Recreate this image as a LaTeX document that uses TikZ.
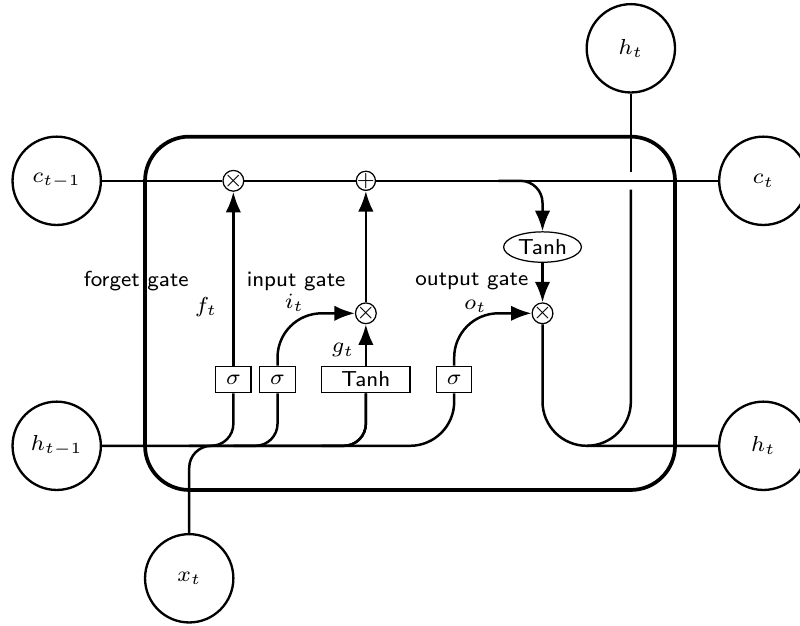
\documentclass[tikz,border=0pt]{standalone}
\usepackage{tikz}
\usetikzlibrary{arrows.meta,positioning,shapes.geometric}
\newcommand{\tvar}[2]{$#1_{t#2}$}
\tikzset{
  cell/.style={
    rectangle,
    rounded corners=5mm,
    draw,
    very thick
  },
  operator/.style={
    circle,
    draw,
    inner sep=-0.5pt,
    minimum height=.2cm
  },
  function/.style={
    ellipse,
    draw,
    inner sep=1pt
  },
  ct/.style={
    circle,
    draw,
    line width=.75pt,
    minimum width=1cm,
    inner sep=1pt
  },
  gt/.style={
    rectangle,
    draw,
    minimum width=4mm,
    minimum height=3mm,
    inner sep=1pt
  },
  gatelabel/.style={font=\sffamily\scriptsize},
  wire/.style={rounded corners=.25cm, thick},
  bigwire/.style={rounded corners=.5cm, thick},
  arrow/.style={-{Latex}}
}

\begin{document}
\begin{tikzpicture}[font=\sffamily\scriptsize]
  \useasboundingbox (-4.642,-3.529) rectangle (4.415,3.547);

  % cell
  \node[cell, minimum height=4cm, minimum width=6cm] (cellbox) at (0,0) {};

  % gate boxes
  \node[gt] (sigf) at (-2,-0.75) {$\sigma$};
  \node[gt] (sigi) at (-1.5,-0.75) {$\sigma$};
  \node[gt, minimum width=1cm] (tanhg) at (-0.5,-0.75) {Tanh};
  \node[gt] (sigo) at (0.5,-0.75) {$\sigma$};

  % operators
  \node[operator] (mulf) at (-2,1.5) {$\times$};
  \node[operator] (addc) at (-0.5,1.5) {+};
  \node[operator] (muli) at (-0.5,0) {$\times$};
  \node[operator] (mulo) at (1.5,0) {$\times$};
  \node[function] (tanhc) at (1.5,0.75) {Tanh};

  % inputs and outputs
  \node[ct] (cin) at (-4,1.5) {\tvar{c}{-1}};
  \node[ct] (hin) at (-4,-1.5) {\tvar{h}{-1}};
  \node[ct] (xin) at (-2.5,-3) {\tvar{x}{}};
  \node[ct] (cout) at (4,1.5) {\tvar{c}{}};
  \node[ct] (hout) at (4,-1.5) {\tvar{h}{}};
  \node[ct] (htop) at (2.5,3) {\tvar{h}{}};

  % labels
  \node[gatelabel] (forgetlbl) at (-3.1,0.36) {forget gate};
  \node[gatelabel] (inputlbl) at (-1.29,0.36) {input gate};
  \node[gatelabel] (outputlbl) at (0.70,0.36) {output gate};
  \node (ftlbl) at (-2.31,0.07) {$f_t$};
  \node (itlbl) at (-1.31,0.12) {$i_t$};
  \node (gtlbl) at (-0.76,-0.42) {$g_t$};
  \node (otlbl) at (0.74,0.075) {$o_t$};

  % split points
  \path (hin -| sigf) ++(-0.5,0) coordinate (splitf);
  \path (hin -| sigi) ++(-0.5,0) coordinate (spliti);
  \path (hin -| tanhg) ++(-0.5,0) coordinate (splitg);
  \path (addc -| tanhc) ++(-0.5,0) coordinate (splitc);
  \path (cout -| htop) ++(0,-0.1) coordinate (gaplow);
  \path (cout -| htop) ++(0,0.1) coordinate (gaphigh);
  \path (hout -| htop) ++(-0.5,0) coordinate (splith);

  % cell state
  \draw[wire] (cin) -- (mulf) -- (addc) -- (cout);

  % hidden state and input
  \draw[bigwire] (hin) -| (sigo);
  \draw[wire] (splitf) -| (sigf);
  \draw[wire] (spliti) -| (sigi);
  \draw[wire] (splitg) -| (tanhg);
  \draw[wire] (xin) -- (xin |- hin) -| (tanhg);

  % inside the cell
  \draw[bigwire, arrow] (sigf) -- (mulf);
  \draw[bigwire, arrow] (sigi) |- (muli);
  \draw[bigwire, arrow] (tanhg) -- (muli);
  \draw[bigwire, arrow] (sigo) |- (mulo);
  \draw[bigwire, arrow] (muli) -- (addc);
  \draw[wire, arrow] (splitc) -| (tanhc);
  \draw[bigwire, arrow] (tanhc) -- (mulo);

  % outputs
  \draw[bigwire] (mulo) |- (hout);
  \draw[bigwire] (splith) -| (gaplow);
  \draw[bigwire] (gaphigh) -- (htop);
\end{tikzpicture}
\end{document}
